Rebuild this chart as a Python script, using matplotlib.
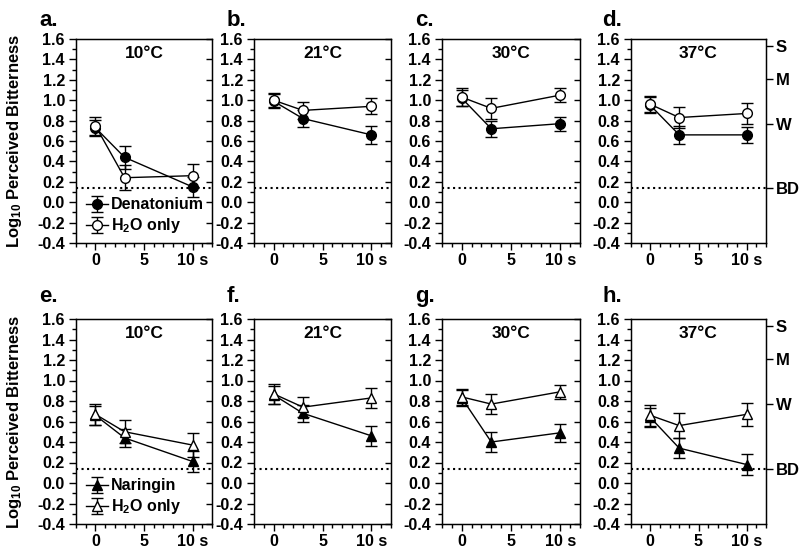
import numpy as np
import matplotlib
matplotlib.use('Agg')
import matplotlib.pyplot as plt
from matplotlib.ticker import MultipleLocator
from matplotlib.transforms import ScaledTranslation

plt.rcParams['font.family'] = ['Liberation Sans', 'DejaVu Sans']
plt.rcParams['font.weight'] = 'bold'
plt.rcParams['mathtext.fontset'] = 'custom'
plt.rcParams['mathtext.rm'] = 'Liberation Sans:bold'
plt.rcParams['mathtext.it'] = 'Liberation Sans:bold'
plt.rcParams['mathtext.bf'] = 'Liberation Sans:bold'
plt.rcParams['mathtext.default'] = 'rm'

# data
times = [0, 3, 10]
temps = ['10°C', '21°C', '30°C', '37°C']
letters_top = ['a.', 'b.', 'c.', 'd.']
letters_bot = ['e.', 'f.', 'g.', 'h.']

# top row: Denatonium vs H2O only
den_mean = [[0.73, 0.44, 0.15], [0.99, 0.82, 0.66], [1.02, 0.72, 0.77], [0.95, 0.66, 0.66]]
den_err = [[0.08, 0.11, 0.10], [0.07, 0.08, 0.09], [0.08, 0.08, 0.07], [0.08, 0.09, 0.08]]
h2o_top_mean = [[0.75, 0.24, 0.26], [1.00, 0.90, 0.94], [1.03, 0.92, 1.05], [0.96, 0.83, 0.87]]
h2o_top_err = [[0.09, 0.12, 0.11], [0.07, 0.08, 0.08], [0.09, 0.10, 0.07], [0.08, 0.10, 0.10]]

# bottom row: Naringin vs H2O only
nar_mean = [[0.66, 0.44, 0.21], [0.86, 0.68, 0.46], [0.83, 0.40, 0.49], [0.64, 0.34, 0.18]]
nar_err = [[0.09, 0.09, 0.10], [0.09, 0.08, 0.10], [0.08, 0.10, 0.09], [0.09, 0.10, 0.10]]
h2o_bot_mean = [[0.67, 0.50, 0.37], [0.87, 0.74, 0.83], [0.84, 0.77, 0.89], [0.66, 0.56, 0.67]]
h2o_bot_err = [[0.10, 0.11, 0.12], [0.10, 0.10, 0.10], [0.08, 0.10, 0.07], [0.10, 0.12, 0.11]]

bd_level = 0.14
scale_ticks = [1.53, 1.21, 0.77, 0.14]
scale_labels = ['S', 'M', 'W', 'BD']

fig = plt.figure(figsize=(7.99, 5.48), dpi=100)
W, H = 799, 548
lefts = [76, 254, 442, 631]
rights = [212, 391, 580, 766]
tops = [39, 319]
bottoms = [243, 524]
letter_x = [39, 227, 415, 602]
letter_y = [10, 286]


def panel(ax, m1, e1, m2, e2, marker, title, lab1, legend):
    ax.errorbar(times, m1, yerr=e1, color='black', lw=1, marker=marker, ms=7,
                mfc='black', mec='black', capsize=4, elinewidth=1, capthick=1,
                label=lab1, zorder=3)
    ax.errorbar(times, m2, yerr=e2, color='black', lw=1, marker=marker, ms=7,
                mfc='white', mec='black', capsize=4, elinewidth=1, capthick=1,
                label='H$_2$O only', zorder=4)
    ax.axhline(bd_level, color='black', ls=':', lw=1.5, zorder=2)
    ax.set_xlim(-2, 12)
    ax.set_ylim(-0.4, 1.6)
    ax.set_yticks(np.arange(-0.4, 1.61, 0.2))
    ax.set_yticklabels(['%.1f' % v for v in np.arange(-0.4, 1.61, 0.2)])
    ax.yaxis.set_minor_locator(MultipleLocator(0.1))
    ax.set_xticks([0, 5, 10])
    ax.set_xticklabels(['0', '5', '10 s'])
    ax.xaxis.set_minor_locator(MultipleLocator(1))
    lab = ax.get_xticklabels()[2]
    lab.set_transform(lab.get_transform() + ScaledTranslation(8 / 100, 0, fig.dpi_scale_trans))
    ax.tick_params(axis='both', which='major', length=5, width=1, labelsize=11.5)
    ax.tick_params(axis='y', which='major', pad=3)
    ax.tick_params(axis='x', which='major', pad=2)
    ax.tick_params(axis='both', which='minor', length=3, width=1)
    for s in ax.spines.values():
        s.set_linewidth(1)
    for t in ax.get_xticklabels() + ax.get_yticklabels():
        t.set_fontweight('bold')
    ax.text(0.5, 0.93, title, transform=ax.transAxes, ha='center', va='center',
            fontsize=12.5, fontweight='bold')
    if legend:
        leg = ax.legend(loc='lower left', bbox_to_anchor=(0.0, -0.01), frameon=False,
                        handlelength=1.4, handletextpad=0.2, fontsize=11.5,
                        borderaxespad=0.2, labelspacing=0.25)
        for t in leg.get_texts():
            t.set_fontweight('bold')


for row in range(2):
    for col in range(4):
        rect = [lefts[col] / W, 1 - bottoms[row] / H,
                (rights[col] - lefts[col]) / W, (bottoms[row] - tops[row]) / H]
        ax = fig.add_axes(rect)
        if row == 0:
            panel(ax, den_mean[col], den_err[col], h2o_top_mean[col], h2o_top_err[col],
                  'o', temps[col], 'Denatonium', col == 0)
            letter = letters_top[col]
        else:
            panel(ax, nar_mean[col], nar_err[col], h2o_bot_mean[col], h2o_bot_err[col],
                  '^', temps[col], 'Naringin', col == 0)
            letter = letters_bot[col]
        ax2 = ax.twinx()
        ax2.set_ylim(-0.4, 1.6)
        if col == 3:
            ax2.set_yticks(scale_ticks)
            ax2.set_yticklabels(scale_labels)
            ax2.tick_params(axis='y', direction='out', length=5, width=1, labelsize=12, pad=2)
            for t in ax2.get_yticklabels():
                t.set_fontweight('bold')
        else:
            ax2.set_yticks(np.arange(-0.4, 1.61, 0.2))
            ax2.set_yticklabels([])
            ax2.tick_params(axis='y', direction='in', length=4, width=1)
        fig.text(letter_x[col] / W, 1 - letter_y[row] / H, letter, fontsize=16,
                 fontweight='bold', ha='left', va='top')
    fig.text(15 / W, 1 - (tops[row] + bottoms[row]) / 2 / H, 'Log$_{10}$ Perceived Bitterness',
             rotation=90, ha='center', va='center', fontsize=12, fontweight='bold')

fig.savefig('out.png', dpi=100)
